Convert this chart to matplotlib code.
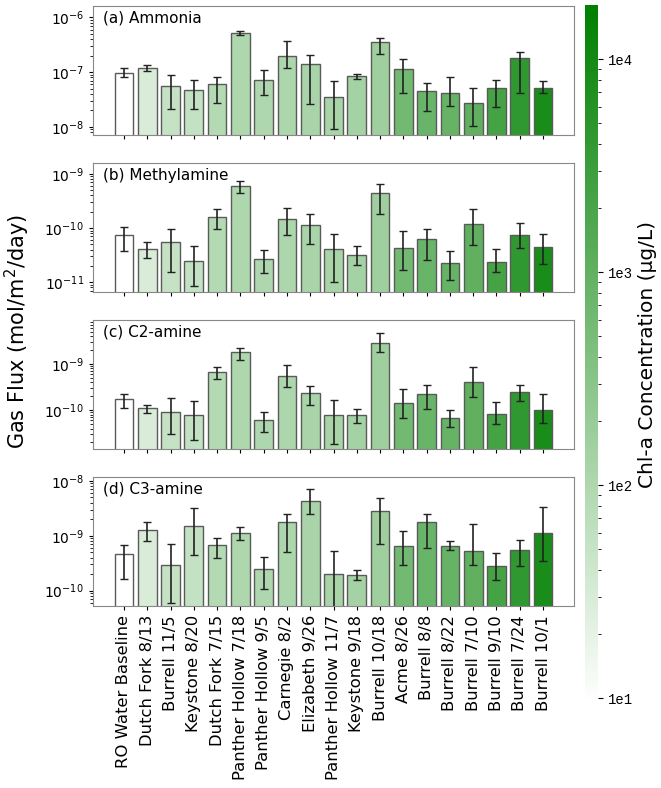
import numpy as np
import matplotlib
matplotlib.use("Agg")
import matplotlib.pyplot as plt
from matplotlib.colors import LinearSegmentedColormap, LogNorm
from matplotlib.cm import ScalarMappable

sites = ["RO Water Baseline", "Dutch Fork 8/13", "Burrell 11/5", "Keystone 8/20",
         "Dutch Fork 7/15", "Panther Hollow 7/18", "Panther Hollow 9/5", "Carnegie 8/2",
         "Elizabeth 9/26", "Panther Hollow 11/7", "Keystone 9/18", "Burrell 10/18",
         "Acme 8/26", "Burrell 8/8", "Burrell 8/22", "Burrell 7/10", "Burrell 9/10",
         "Burrell 7/24", "Burrell 10/1"]

# chl-a (ug/L)
chla = [9.3, 30, 52, 55, 86, 105, 100, 109, 120, 124, 134, 160,
        610, 820, 870, 1040, 2340, 4300, 8500]

# mean flux, lower bound, upper bound of error bar (mol/m2/day)
ammonia = [9.7e-8, 1.20e-7, 5.59e-8, 4.73e-8, 6.07e-8, 5.28e-7, 7.16e-8, 2.0e-7, 1.38e-7, 3.44e-8,
           8.47e-8, 3.58e-7, 1.13e-7, 4.54e-8, 4.24e-8, 2.75e-8, 5.21e-8, 1.84e-7, 5.07e-8]
ammonia_lo = [8.0e-8, 1.06e-7, 2.11e-8, 2.11e-8, 2.72e-8, 4.80e-7, 3.84e-8, 1.21e-7, 2.64e-8, 8.96e-9,
              7.59e-8, 2.17e-7, 4.24e-8, 1.92e-8, 2.43e-8, 1.03e-8, 2.30e-8, 4.24e-8, 4.11e-8]
ammonia_hi = [1.21e-7, 1.36e-7, 8.83e-8, 7.07e-8, 8.0e-8, 5.58e-7, 1.09e-7, 3.79e-7, 2.03e-7, 6.97e-8,
              9.33e-8, 4.29e-7, 1.74e-7, 6.33e-8, 8.24e-8, 5.21e-8, 7.07e-8, 2.30e-7, 6.88e-8]

methylamine = [7.4e-11, 4.12e-11, 5.63e-11, 2.44e-11, 1.63e-10, 5.91e-10, 2.7e-11, 1.44e-10, 1.14e-10, 4.18e-11,
               3.24e-11, 4.34e-10, 4.37e-11, 6.31e-11, 2.28e-11, 1.18e-10, 2.41e-11, 7.38e-11, 4.55e-11]
methylamine_lo = [3.85e-11, 2.81e-11, 1.53e-11, 8.67e-12, 9.66e-11, 4.4e-10, 1.45e-11, 7.48e-11, 5.18e-11, 1.01e-11,
                  2.12e-11, 1.85e-10, 1.71e-11, 2.62e-11, 1.12e-11, 4.89e-11, 1.53e-11, 4.3e-11, 2.21e-11]
methylamine_hi = [1.05e-10, 5.47e-11, 9.8e-11, 4.75e-11, 2.26e-10, 7.53e-10, 4.01e-11, 2.39e-10, 1.83e-10, 7.91e-11,
                  4.62e-11, 6.36e-10, 8.75e-11, 9.8e-11, 3.79e-11, 2.26e-10, 4.12e-11, 1.23e-10, 7.8e-11]

c2amine = [1.78e-10, 1.10e-10, 8.91e-11, 7.94e-11, 6.74e-10, 1.78e-9, 6.1e-11, 5.53e-10, 2.39e-10, 7.69e-11,
           7.69e-11, 2.82e-9, 1.41e-10, 2.24e-10, 6.62e-11, 3.98e-10, 8.2e-11, 2.47e-10, 1.03e-10]
c2amine_lo = [1.09e-10, 8.77e-11, 3.01e-11, 2.24e-11, 4.69e-10, 1.24e-9, 3.43e-11, 3.11e-10, 1.32e-10, 1.87e-11,
              5.26e-11, 1.84e-9, 6.85e-11, 1.07e-10, 4.32e-11, 1.93e-10, 5.09e-11, 1.56e-10, 5.36e-11]
c2amine_hi = [2.2e-10, 1.32e-10, 1.87e-10, 1.61e-10, 8.62e-10, 2.17e-9, 8.91e-11, 9.36e-10, 3.27e-10, 1.66e-10,
              1.07e-10, 4.77e-9, 2.91e-10, 3.55e-10, 1.02e-10, 8.62e-10, 1.48e-10, 3.43e-10, 2.2e-10]

c3amine = [4.69e-10, 1.28e-9, 2.9e-10, 1.52e-9, 6.78e-10, 1.14e-9, 2.48e-10, 1.75e-9, 4.22e-9, 2.03e-10,
           1.92e-10, 2.79e-9, 6.4e-10, 1.75e-9, 6.58e-10, 5.32e-10, 2.85e-10, 5.4e-10, 1.14e-9]
c3amine_lo = [1.62e-10, 8.04e-10, 5.83e-11, 4.43e-10, 4.01e-10, 8.26e-10, 1.07e-10, 5.04e-10, 2.49e-9, 5.0e-11,
              1.53e-10, 7.16e-10, 2.98e-10, 6.05e-10, 5.47e-10, 2.98e-10, 1.57e-10, 2.85e-10, 3.43e-10]
c3amine_hi = [6.68e-10, 1.75e-9, 6.97e-10, 3.18e-9, 9.12e-10, 1.46e-9, 4.12e-10, 2.46e-9, 7.02e-9, 5.25e-10,
              2.37e-10, 4.92e-9, 1.23e-9, 2.53e-9, 8.15e-10, 1.63e-9, 4.89e-10, 8.38e-10, 3.27e-9]

titles = ["(a) Ammonia", "(b) Methylamine", "(c) C2-amine", "(d) C3-amine"]
ylims = [(10**-8.15, 10**-5.79), (10**-11.18, 10**-8.80), (10**-10.84, 10**-8.05), (10**-10.28, 10**-7.93)]

panels = [(ammonia, ammonia_lo, ammonia_hi),
          (methylamine, methylamine_lo, methylamine_hi),
          (c2amine, c2amine_lo, c2amine_hi),
          (c3amine, c3amine_lo, c3amine_hi)]

cmap = LinearSegmentedColormap.from_list("wg", ["white", "green"])
norm = LogNorm(vmin=9.3, vmax=1.8e4)
colors = cmap(norm(chla))

W, H = 661, 788
fig = plt.figure(figsize=(W / 100, H / 100), dpi=100)

x = np.arange(len(sites))
tops = [6, 163, 320, 477]
for k, (vals, lo, hi) in enumerate(panels):
    ax = fig.add_axes([93 / W, 1 - (tops[k] + 129) / H, 481 / W, 129 / H])
    vals = np.array(vals)
    yerr = np.array([vals - np.array(lo), np.array(hi) - vals])
    ax.set_yscale("log")
    ax.bar(x, vals, width=0.8, color=colors, edgecolor="#5a5a5a", linewidth=1.0)
    ax.errorbar(x, vals, yerr=yerr, fmt="none", ecolor="#222222", elinewidth=1.2,
                capsize=3, capthick=1.0)
    ax.set_xlim(-1.33, 19.33)
    ax.set_ylim(*ylims[k])
    ax.set_xticks(x)
    if k == 3:
        ax.set_xticklabels(sites, rotation=90, fontsize=11.8)
    else:
        ax.set_xticklabels([])
    ax.tick_params(axis="y", labelsize=10, length=3)
    ax.tick_params(axis="x", length=3)
    for s in ax.spines.values():
        s.set_edgecolor("#888888")
    ax.text(0.02, 0.965, titles[k], transform=ax.transAxes, fontsize=11, va="top", ha="left")

fig.text(17 / W, 1 - 332 / H, "Gas Flux (mol/m$^2$/day)", rotation=90, va="center", ha="center", fontsize=15)

cax = fig.add_axes([585 / W, 1 - 705 / H, 13 / W, 700 / H])
sm = ScalarMappable(norm=norm, cmap=cmap)
cb = fig.colorbar(sm, cax=cax)
cb.outline.set_visible(False)
cb.set_ticks([10, 100, 1000, 10000])
cb.set_ticklabels(["1e1", "1e2", "1e3", "1e4"])
for t in cax.get_yticklabels():
    t.set_family("Liberation Mono")
    t.set_fontsize(10)
cb.set_label("Chl-a Concentration (μg/L)", fontsize=14.5)

fig.savefig("out.png", dpi=100)
